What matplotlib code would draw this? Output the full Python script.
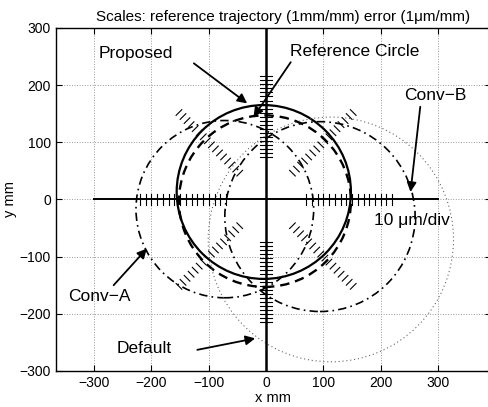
import numpy as np
import matplotlib.pyplot as plt
from matplotlib.patches import Circle

plt.rcParams['font.family'] = ['Liberation Sans', 'DejaVu Sans']

curve_names = ['Reference Circle', 'Proposed', 'Conv-A', 'Conv-B', 'Default']
centre_x = [-2, -4, -72, 94, 113]
centre_y = [-3, 13, -17, -30, -70]
radius = [150, 152, 155, 166, 214]
styles = [dict(ls=(0, (4, 2.5)), lw=1.7, ec='k'),
          dict(ls='-', lw=1.6, ec='k'),
          dict(ls=(0, (5, 2.5, 1, 2.5)), lw=1.2, ec='k'),
          dict(ls=(0, (5, 2.5, 1, 2.5)), lw=1.2, ec='k'),
          dict(ls=(0, (1, 2.5)), lw=0.8, ec='0.4')]

# 10 um/div scale marks (distance from origin, mm)
mark_r_horiz = [70, 80, 90, 100, 110, 120, 130, 140, 150, 160, 170, 180, 190, 200, 210, 220]
mark_r_vert = [75, 82, 89, 96, 103, 110, 117, 124, 131, 138, 145, 152, 159, 166, 173, 180, 187, 194, 201, 208, 215]
mark_r_diag = [65, 75, 85, 95, 105, 115, 125, 135, 145, 155, 165, 175, 185, 195, 205, 215]

# annotations: label, text position, arrow start, arrow tip
ann_labels = ['Proposed', 'Reference Circle', 'Conv\u2212B', 'Conv\u2212A', 'Default']
ann_text = [(-292, 256), (42, 258), (240, 181), (-345, -170), (-260, -260)]
ann_start = [(-126, 238), (43, 240), (269, 162), (-266, -150), (-120, -263)]
ann_tip = [(-33, 168), (-22, 144), (252, 13), (-208, -86), (-19, -243)]

fig = plt.figure(figsize=(4.89, 4.07), dpi=100)
ax = fig.add_axes([0.114, 0.0885, 0.8896, 0.843])

ax.grid(True, ls=':', color='0.6', lw=0.7)
ax.set_axisbelow(True)

# coordinate axes through origin
ax.plot([-300, 300], [0, 0], 'k', lw=1.4)
ax.plot([0, 0], [-300, 300], 'k', lw=1.8)

for cx, cy, r, st in zip(centre_x, centre_y, radius, styles):
    ax.add_patch(Circle((cx, cy), r, fill=False, **st))

# scale marks
for r in mark_r_horiz:
    ax.plot([r, r], [-9, 9], 'k', lw=0.8)
    ax.plot([-r, -r], [-9, 9], 'k', lw=0.8)
for r in mark_r_vert:
    ax.plot([-11, 11], [r, r], 'k', lw=0.8)
    ax.plot([-11, 11], [-r, -r], 'k', lw=0.8)
h = 7
for ang in [45, 135, 225, 315]:
    c, s = np.cos(np.deg2rad(ang)), np.sin(np.deg2rad(ang))
    for r in mark_r_diag:
        px, py = r * c, r * s
        ax.plot([px - h * s, px + h * s], [py + h * c, py - h * c], 'k', lw=0.8)

for lab, t, a, b in zip(ann_labels, ann_text, ann_start, ann_tip):
    ax.text(t[0], t[1], lab, fontsize=12.5, ha='left', va='center')
    ax.annotate('', xy=b, xytext=a,
                arrowprops=dict(arrowstyle='-|>', color='k', lw=1.3,
                                mutation_scale=14, shrinkA=0, shrinkB=0))

ax.text(188, -36, '10 \u03bcm/div', fontsize=12.5, ha='left', va='center')

ax.set_xlim(-367, 392)
ax.set_ylim(-300, 300)
ax.set_xticks(np.arange(-300, 301, 100))
ax.set_yticks(np.arange(-300, 301, 100))
ax.tick_params(direction='in', top=True, right=True, length=4, labelsize=10)
ax.set_xlabel('x mm', fontsize=10.5, labelpad=1)
ax.set_ylabel('y mm', fontsize=10.5, labelpad=2)
ax.set_title('Scales: reference trajectory (1mm/mm) error (1\u03bcm/mm)',
             fontsize=11, x=0.522, pad=5)
for sp in ax.spines.values():
    sp.set_linewidth(1.0)

fig.savefig('out.png', dpi=100)
